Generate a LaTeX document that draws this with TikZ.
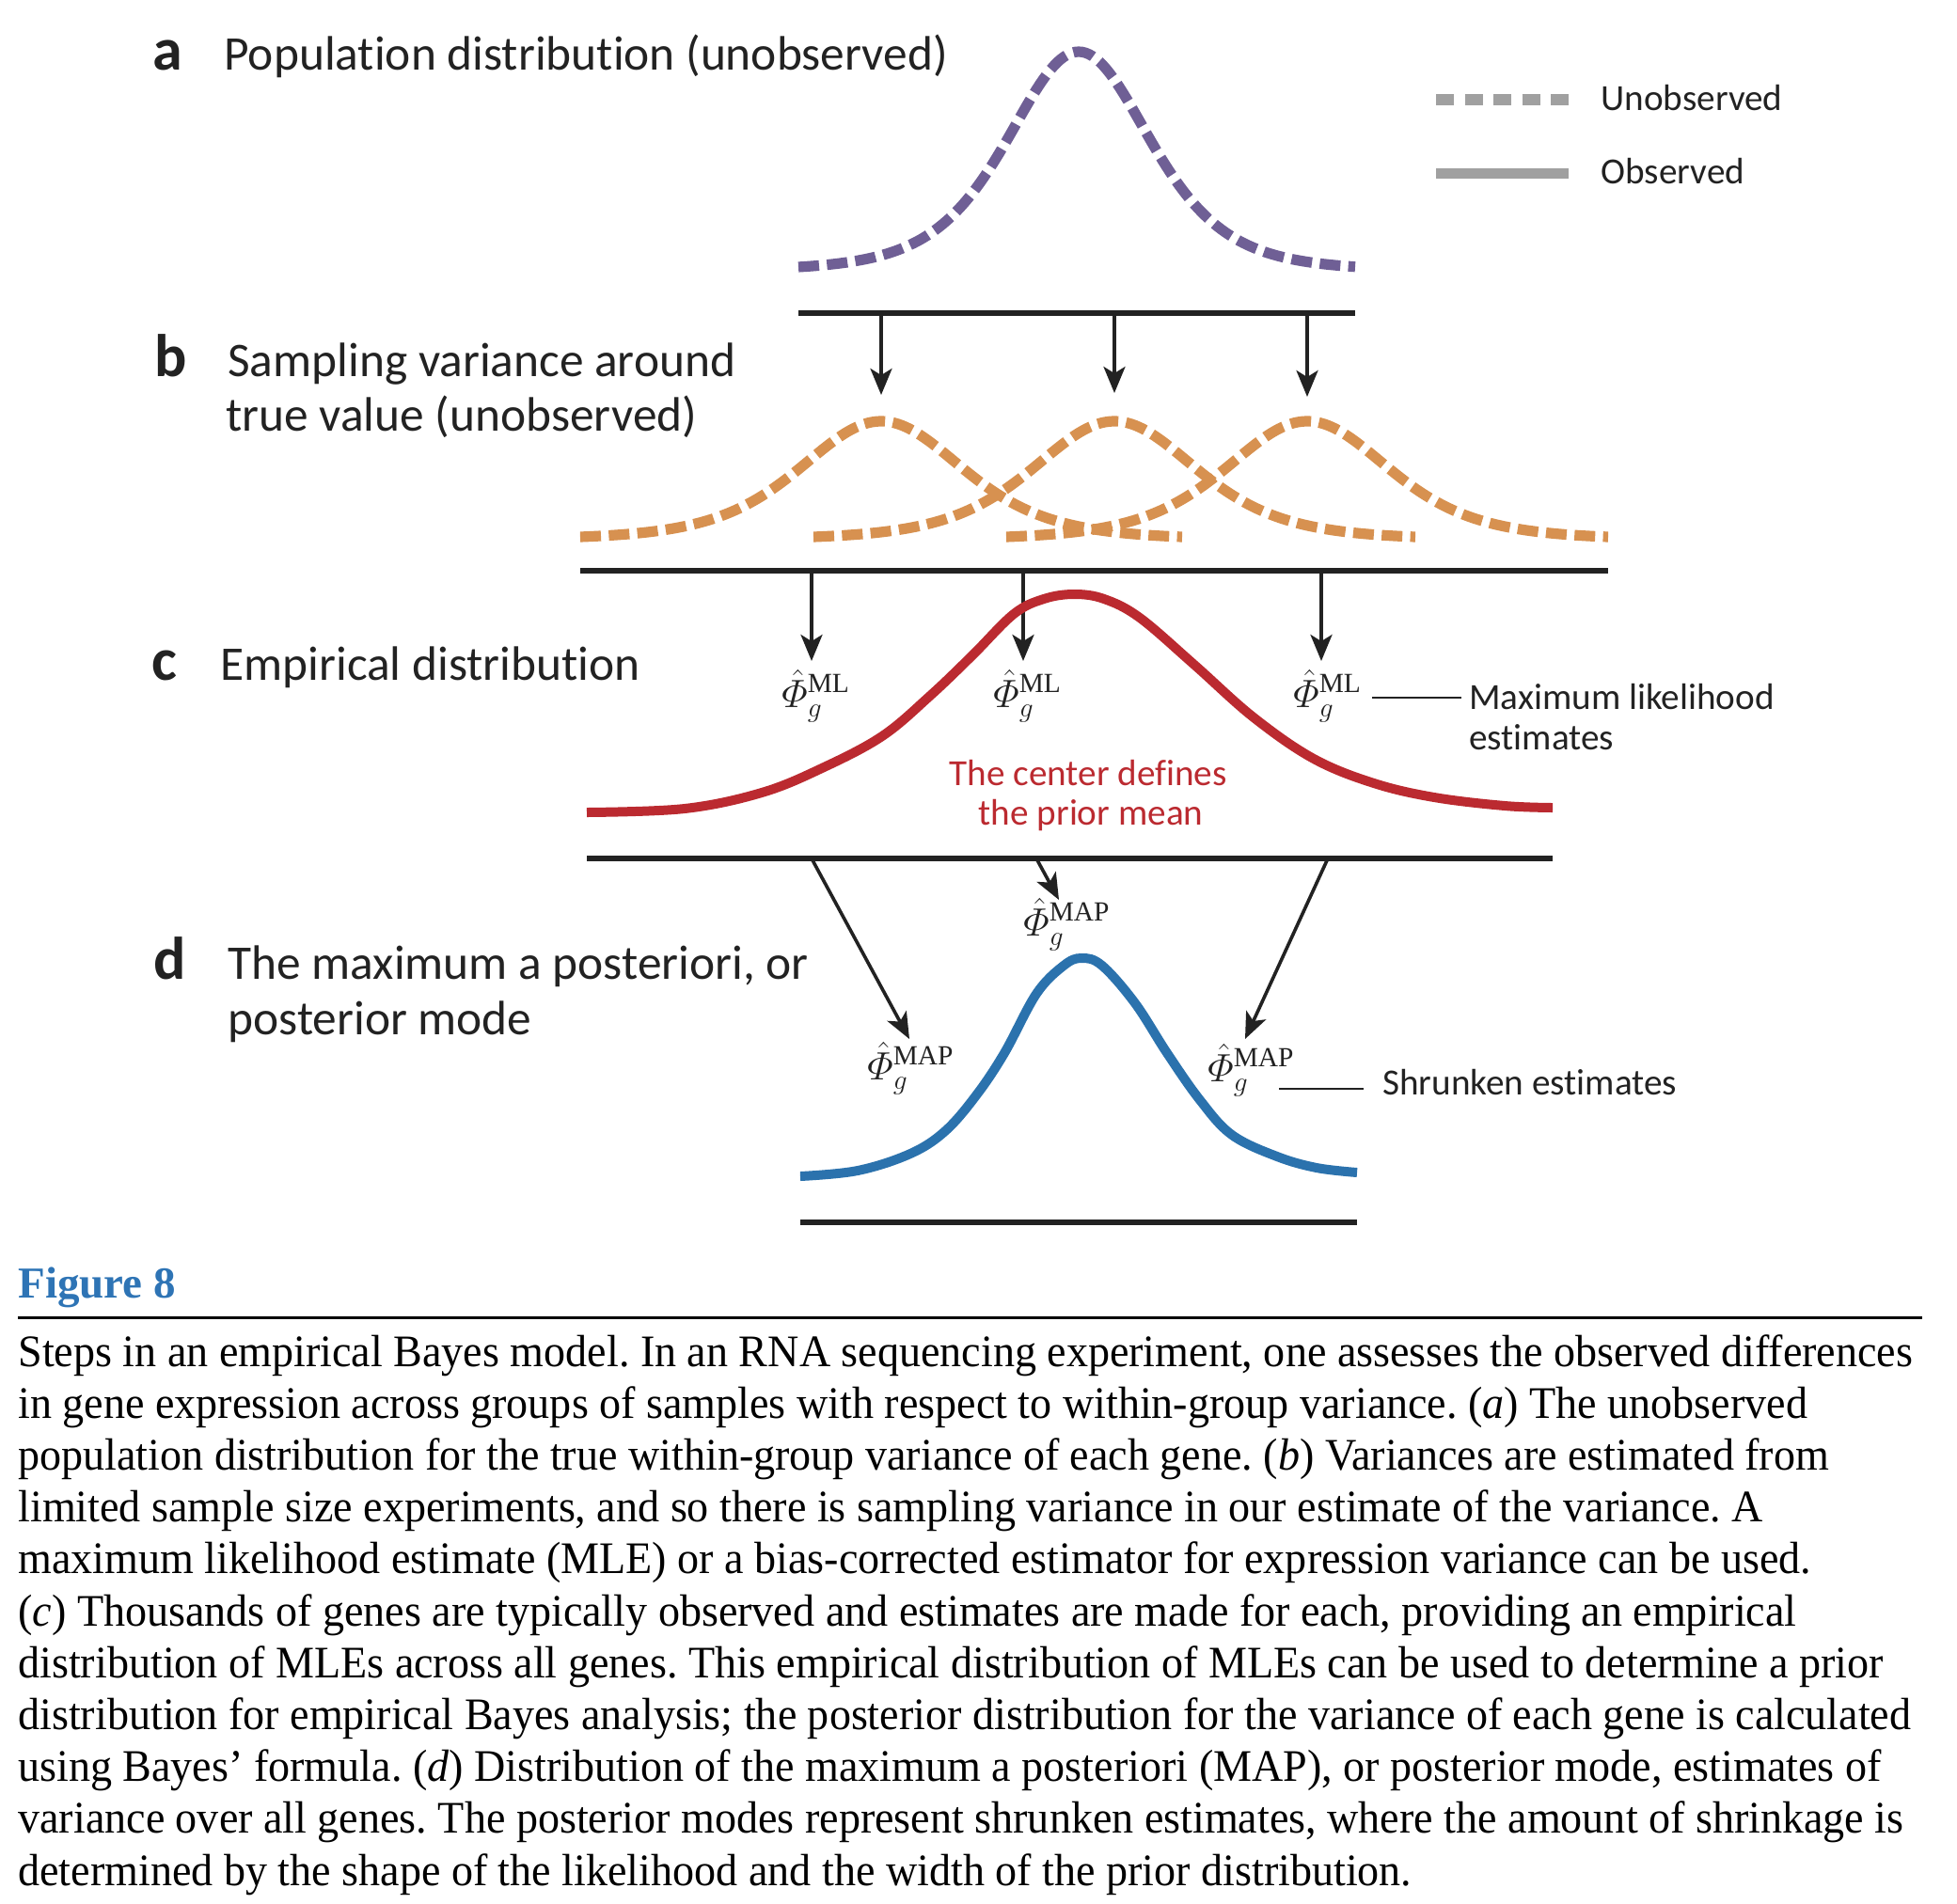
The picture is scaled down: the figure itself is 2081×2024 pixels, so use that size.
\RequirePackage{fix-cm}
\documentclass[tikz,border=0pt]{standalone}
\usepackage{amsmath}
\usepackage{fontspec}
\setmainfont{Liberation Serif}
\newfontfamily\sansf[Ligatures=NoCommon]{Carlito}
\newfontfamily\capfont[FakeStretch=0.96]{Liberation Serif}
\usetikzlibrary{arrows.meta}
\definecolor{cpurple}{RGB}{111,95,149}
\definecolor{corange}{RGB}{215,145,80}
\definecolor{cred}{RGB}{187,42,48}
\definecolor{cblue}{RGB}{43,114,173}
\definecolor{cgray}{RGB}{160,160,160}
\definecolor{cfig}{RGB}{46,116,181}
\definecolor{cink}{RGB}{34,34,34}
\tikzset{
  titletext/.style={font=\sansf\fontsize{25.7}{30}\selectfont, anchor=base west, inner sep=0pt, text=cink},
  panellabel/.style={font=\sansf\bfseries\fontsize{32}{36}\selectfont, anchor=base west, inner sep=0pt, text=cink},
  notetext/.style={font=\sansf\fontsize{19.6}{23}\selectfont, anchor=base west, inner sep=0pt, text=cink},
  esttext/.style={font=\fontsize{21}{25}\selectfont, anchor=base west, inner sep=0pt, text=cink},
  axisline/.style={line width=2.75pt, draw=cink},
  arrowline/.style={line width=1.8pt, draw=cink, -{Stealth[length=14pt,width=11.5pt,inset=3.5pt]}},
  connline/.style={line width=1.2pt, draw=cink},
  unobs/.style={line width=5.6pt, dash pattern=on 11pt off 4.2pt},
  capline/.style={font=\capfont\fontsize{24}{27.6}\selectfont, anchor=base west, inner sep=0pt, text=black}
}
\begin{document}
\frenchspacing
\begin{tikzpicture}[x=0.5pt,y=-0.5pt]
\useasboundingbox (0,0) rectangle (2081,2024);

% ---------- panel a ----------
\node[panellabel] (la) at (162,74) {a};
\node[titletext] (ta) at (238,74) {Population distribution (unobserved)};
\draw[unobs, draw=cpurple] plot[domain=849:1441, samples=160]
  (\x, {288-233/((1+((\x-1147)/176)^2)^3)});
\coordinate (aL) at (849,333); \coordinate (aR) at (1441,333);
\draw[axisline] (aL) -- (aR);

% legend
\coordinate (lg1a) at (1527,106); \coordinate (lg1b) at (1668,106);
\coordinate (lg2a) at (1527,184); \coordinate (lg2b) at (1668,184);
\draw[line width=6pt, draw=cgray, dash pattern=on 9.5pt off 5.75pt] (lg1a) -- (lg1b);
\draw[line width=5.5pt, draw=cgray] (lg2a) -- (lg2b);
\node[notetext] (lgu) at (1702,117) {Unobserved};
\node[notetext] (lgo) at (1702,195) {Observed};

% arrows a -> b
\coordinate (ab1s) at (937,333);  \coordinate (ab1e) at (937,420);
\coordinate (ab2s) at (1185,333); \coordinate (ab2e) at (1185,418);
\coordinate (ab3s) at (1390,333); \coordinate (ab3e) at (1390,422);
\draw[arrowline] (ab1s) -- (ab1e);
\draw[arrowline] (ab2s) -- (ab2e);
\draw[arrowline] (ab3s) -- (ab3e);

% ---------- panel b ----------
\node[panellabel] (lb) at (164,400) {b};
\node[titletext] (tb1) at (242,400) {Sampling variance around};
\node[titletext] (tb2) at (240,458) {true value (unobserved)};
\foreach \c in {937,1185,1390}{
  \draw[unobs, draw=corange] plot[domain=\c-320:\c+320, samples=160]
    (\x, {573.9-125.9/((1+((\x-\c)/202)^2)^3)});
}
\coordinate (bL) at (617,607); \coordinate (bR) at (1710,607);
\draw[axisline] (bL) -- (bR);

% arrows b -> c
\coordinate (bc1s) at (863,607);  \coordinate (bc1e) at (863,703);
\coordinate (bc2s) at (1088,607); \coordinate (bc2e) at (1088,703);
\coordinate (bc3s) at (1405,607); \coordinate (bc3e) at (1405,703);
\draw[arrowline] (bc1s) -- (bc1e);
\draw[arrowline] (bc2s) -- (bc2e);
\draw[arrowline] (bc3s) -- (bc3e);

% ---------- panel c ----------
\node[panellabel] (lc) at (161,723) {c};
\node[titletext] (tc) at (234,723) {Empirical distribution};
\draw[line width=5pt, draw=cred] plot[smooth, tension=0.6] coordinates {
  (624,864) (728,860) (810,843) (874,817) (938,783) (989,740) (1034,697)
  (1078,653) (1110,637) (1142,632) (1174,637) (1212,657) (1270,707)
  (1333,763) (1397,807) (1461,833) (1525,848) (1600,857) (1651,859)};
\node[esttext] (ml1) at (831,752) {$\hat{\varPhi}^{\mathrm{ML}}_{g}$};
\node[esttext] (ml2) at (1056,752) {$\hat{\varPhi}^{\mathrm{ML}}_{g}$};
\node[esttext] (ml3) at (1375,752) {$\hat{\varPhi}^{\mathrm{ML}}_{g}$};
\coordinate (mlc1) at (1459,742); \coordinate (mlc2) at (1554,742);
\draw[connline] (mlc1) -- (mlc2);
\node[notetext] (mlt1) at (1562,754) {Maximum likelihood};
\node[notetext] (mlt2) at (1562,797) {estimates};
\node[notetext, anchor=base, text=cred] (red1) at (1157,835) {The center defines};
\node[notetext, anchor=base, text=cred] (red2) at (1160,877) {the prior mean};
\coordinate (cL) at (624,913); \coordinate (cR) at (1651,913);
\draw[axisline] (cL) -- (cR);

% arrows c -> d
\coordinate (cd1s) at (863,913);  \coordinate (cd1e) at (967,1105);
\coordinate (cd2s) at (1102,913); \coordinate (cd2e) at (1126,957);
\coordinate (cd3s) at (1412,913); \coordinate (cd3e) at (1324,1105);
\draw[arrowline] (cd1s) -- (cd1e);
\draw[arrowline] (cd2s) -- (cd2e);
\draw[arrowline] (cd3s) -- (cd3e);

% ---------- panel d ----------
\node[panellabel] (ld) at (163,1041) {d};
\node[titletext] (td1) at (242,1041) {The maximum a posteriori, or};
\node[titletext] (td2) at (242,1100) {posterior mode};
\draw[line width=5pt, draw=cblue] plot[smooth, tension=0.6] coordinates {
  (851,1251) (912,1245) (968,1227) (1005,1203) (1038,1165) (1068,1120)
  (1102,1057) (1131,1027) (1150,1019) (1172,1027) (1207,1067) (1241,1120)
  (1276,1170) (1310,1207) (1358,1230) (1400,1242) (1443,1247)};
\node[esttext] (map1) at (922,1148) {$\hat{\varPhi}^{\mathrm{MAP}}_{g}$};
\node[esttext] (map2) at (1088,995) {$\hat{\varPhi}^{\mathrm{MAP}}_{g}$};
\node[esttext] (map3) at (1284,1150) {$\hat{\varPhi}^{\mathrm{MAP}}_{g}$};
\coordinate (mpc1) at (1360,1158); \coordinate (mpc2) at (1450,1158);
\draw[connline] (mpc1) -- (mpc2);
\node[notetext] (shr) at (1470,1164) {Shrunken estimates};
\coordinate (dL) at (851,1300); \coordinate (dR) at (1443,1300);
\draw[axisline] (dL) -- (dR);

% ---------- caption ----------
\node[anchor=base west, inner sep=0pt, text=cfig, font=\bfseries\fontsize{23.5}{27}\selectfont] (fig) at (19,1380) {Figure 8};
\coordinate (ruleL) at (19,1401); \coordinate (ruleR) at (2044,1401);
\draw[line width=1.5pt, draw=black] (ruleL) -- (ruleR);
\node[capline] (c1) at (19,1453.0) {Steps in an empirical Bayes model. In an RNA sequencing experiment, one assesses the observed differences};
\node[capline] (c2) at (19,1508.2) {in gene expression across groups of samples with respect to within-group variance. (\textit{a}) The unobserved};
\node[capline] (c3) at (19,1563.4) {population distribution for the true within-group variance of each gene. (\textit{b}) Variances are estimated from};
\node[capline] (c4) at (19,1618.6) {limited sample size experiments, and so there is sampling variance in our estimate of the variance. A};
\node[capline] (c5) at (19,1673.8) {maximum likelihood estimate (MLE) or a bias-corrected estimator for expression variance can be used.};
\node[capline] (c6) at (19,1729.0) {(\textit{c}) Thousands of genes are typically observed and estimates are made for each, providing an empirical};
\node[capline] (c7) at (19,1784.2) {distribution of MLEs across all genes. This empirical distribution of MLEs can be used to determine a prior};
\node[capline] (c8) at (19,1839.4) {distribution for empirical Bayes analysis; the posterior distribution for the variance of each gene is calculated};
\node[capline] (c9) at (19,1894.6) {using Bayes’ formula. (\textit{d}) Distribution of the maximum a posteriori (MAP), or posterior mode, estimates of};
\node[capline] (c10) at (19,1949.8) {variance over all genes. The posterior modes represent shrunken estimates, where the amount of shrinkage is};
\node[capline] (c11) at (19,2005.0) {determined by the shape of the likelihood and the width of the prior distribution.};
\end{tikzpicture}
\end{document}
